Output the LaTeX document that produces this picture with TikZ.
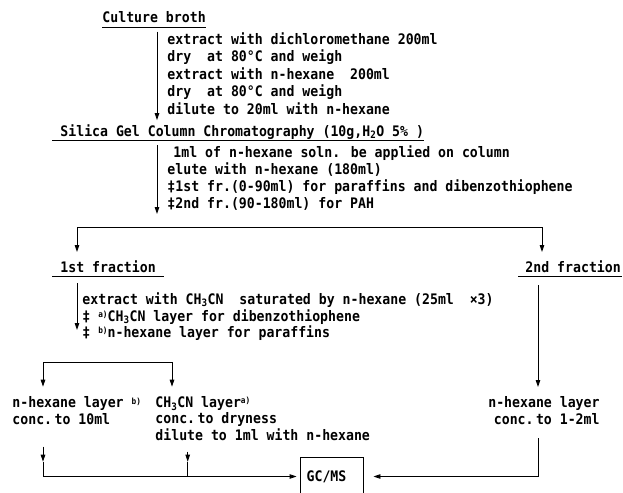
\documentclass[tikz,border=0pt]{standalone}
\usepackage{fontspec}
\usepackage{tikz}
\usetikzlibrary{positioning,arrows.meta,calc}
\newfontfamily\gothic{DejaVu Sans Mono}[FakeStretch=0.91]
\newcommand{\supnote}[1]{\smash{\raisebox{3.5pt}{\fontsize{8.5}{8.5}\selectfont #1}}}
\newcommand{\subnum}[1]{\textsubscript{#1}}
\tikzset{
  heading/.style={anchor=base west, inner xsep=0pt, inner ysep=1pt, text height=11pt, text depth=3pt},
  notes/.style={inner sep=0pt, align=left, font=\gothic\bfseries\fontsize{14.5}{#1}\selectfont},
  gcbox/.style={draw, minimum width=63pt, minimum height=39pt, inner sep=0pt}
}

\begin{document}
\begin{tikzpicture}[x=1pt, y=-1pt, line width=0.9pt, >={Triangle[length=7pt,width=4.5pt]},
                    font=\gothic\bfseries\fontsize{14.5}{17}\selectfont]
  \useasboundingbox (0,0) rectangle (623,492);
  \clip (0,0) rectangle (623,492);
  \fill[white] (0,0) rectangle (623,492);

  % headings
  \node[heading] (culture) at (102,23) {Culture broth};
  \node[heading] (silica) at (60,136) {Silica Gel Column Chromatography (10g,H\subnum{2}O 5\% )};
  \node[heading] (frac1) at (60,272) {1st fraction};
  \node[heading] (frac2) at (525,272) {2nd fraction};
  \draw (culture.south west) -- (culture.south east);
  \draw ([xshift=-8pt]silica.south west) -- (silica.south east);
  \draw ([xshift=-8pt]frac1.south west) -- ([xshift=8pt]frac1.south east);
  \draw ([xshift=-7pt]frac2.south west) -- ([xshift=1pt]frac2.south east);

  % extraction
  \coordinate (arrA) at (157,31.75);
  \node[notes=17.5, below right=0pt and 10pt of arrA] (steps1)
    {\strut extract with dichloromethane 200ml\\
     dry\ \ at 80°C and weigh\\
     extract with n-hexane\ \ 200ml\\
     dry\ \ at 80°C and weigh\\
     dilute to 20ml with n-hexane\strut};
  \draw[->] (arrA) -- (arrA |- steps1.south);

  % column
  \coordinate (arrB) at (157,145.1);
  \node[notes=17, below right=0pt and 10pt of arrB] (steps2)
    {\strut\hspace{6pt}1ml of n-hexane soln. be applied on column\\
     elute with n-hexane (180ml)\\
     ‡1st fr.(0-90ml) for paraffins and dibenzothiophene\\
     ‡2nd fr.(90-180ml) for PAH\strut};
  \draw[->] (arrB) -- (arrB |- steps2.south);

  \coordinate (splitL) at (77,227);
  \coordinate (splitR) at (542,227);
  \draw[<->] ($(splitL)+(0,25)$) -- (splitL) -- (splitR) -- ($(splitR)+(0,25)$);

  % 1st fraction
  \coordinate (arrC) at (77,283);
  \coordinate (arrCend) at (77,330);
  \node[notes=14.5, below right=9pt and 5pt of arrC] (steps3)
    {\strut extract with CH\subnum{3}CN\ \ saturated by n-hexane (25ml\ \ ×3)\\
     ‡ \supnote{a)}CH\subnum{3}CN layer for dibenzothiophene\\
     ‡ \supnote{b)}n-hexane layer for paraffins};
  \draw[->] (arrC) -- (arrCend);

  \coordinate (split2L) at (43,362.7);
  \coordinate (split2R) at (172,362.7);
  \draw[<->] ($(split2L)+(0,24)$) -- (split2L) -- (split2R) -- ($(split2R)+(0,24)$);

  \node[notes=15, anchor=north west] (hexleft) at (12,396.5)
    {\strut n-hexane layer \supnote{b)}\\ conc.\,to 10ml};
  \node[notes=16.5, anchor=north west] (mecn) at (155,395.45)
    {\strut CH\subnum{3}CN layer\supnote{a)}\\ conc.\,to dryness\\ dilute to 1ml with n-hexane};

  % 2nd fraction
  \node[notes=17, anchor=north east, align=right] (hexright) at (600,395.1)
    {\strut n-hexane layer\\ conc.\,to 1-2ml};
  \coordinate (rtop) at (538,285);
  \coordinate (rmid) at (538,387);
  \draw[->] (rtop) -- (rmid);

  % GC/MS
  \node[gcbox] (gcms) at (331.5,476.5) {GC/MS\hspace*{10pt}};
  \coordinate (dropL) at (43,446.7);
  \coordinate (dropM) at (187.7,451.7);
  \coordinate (tipL) at (43,461.7);
  \coordinate (tipM) at (187.7,461.7);
  \coordinate (rbot) at (538,438);
  \draw[->] (dropL) -- (tipL);
  \draw[->] (dropM) -- (tipM);
  \draw[->] (tipL) -- (tipL |- gcms.west) -- ([xshift=-3pt]gcms.west);
  \draw (tipM) -- (tipM |- gcms.west);
  \draw[->] (rbot) -- (rbot |- gcms.east) -- ([xshift=10pt]gcms.east);
\end{tikzpicture}
\end{document}
